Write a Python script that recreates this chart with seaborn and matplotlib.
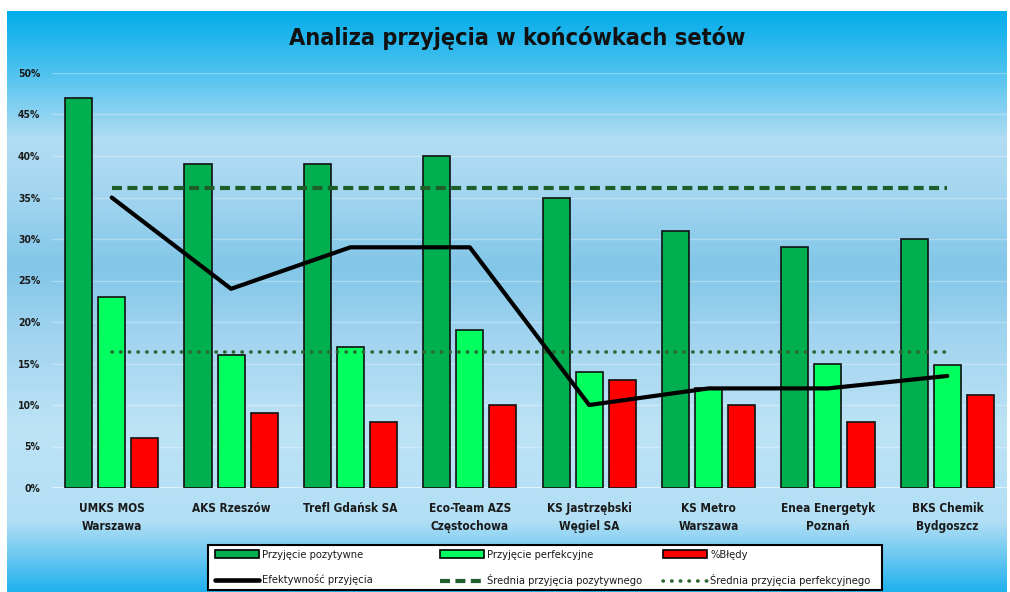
import numpy as np
import pandas as pd
import matplotlib
matplotlib.use("Agg")
import matplotlib.pyplot as plt
import seaborn as sns
from matplotlib.colors import LinearSegmentedColormap
from matplotlib.patches import Patch, Rectangle
from matplotlib.lines import Line2D
from matplotlib import font_manager as fm

# ---------------- data ----------------
categories = ["UMKS MOS\nWarszawa", "AKS Rzeszów", "Trefl Gdańsk SA",
              "Eco-Team AZS\nCzęstochowa", "KS Jastrzębski\nWęgiel SA",
              "KS Metro\nWarszawa", "Enea Energetyk\nPoznań", "BKS Chemik\nBydgoszcz"]
przyjecie_pozytywne = [47, 39, 39, 40, 35, 31, 29, 30]
przyjecie_perfekcyjne = [23, 16, 17, 19, 14, 12, 15, 14.8]
bledy = [6, 9, 8, 10, 13, 10, 8, 11.2]
efektywnosc = [35, 24, 29, 29, 10, 12, 12, 13.5]
srednia_pozytywnego = [36.2, 36.2, 36.2, 36.2, 36.2, 36.2, 36.2, 36.2]
srednia_perfekcyjnego = [16.4, 16.4, 16.4, 16.4, 16.4, 16.4, 16.4, 16.4]
y_ticks = [0, 5, 10, 15, 20, 25, 30, 35, 40, 45, 50]
y_tick_labels = ["0%", "5%", "10%", "15%", "20%", "25%", "30%", "35%", "40%", "45%", "50%"]
bar_series = ["Przyjęcie pozytywne", "Przyjęcie perfekcyjne", "%Błędy"]
line_series = ["Efektywność przyjęcia", "Średnia przyjęcia pozytywnego",
               "Średnia przyjęcia perfekcyjnego"]
title = "Analiza przyjęcia w końcówkach setów"

# ---------------- style ----------------
sns.set_theme(style="white")


def find_font(keys, bold):
    for f in fm.fontManager.ttflist:
        fn = f.fname.replace("-", "").replace("_", "").lower()
        for k in keys:
            if k in fn and (("bold" in fn) == bold) and "oblique" not in fn and "italic" not in fn:
                return f.fname
    return None


cond_keys = ["dejavusanscondensed", "liberationsansnarrow", "robotocondensed",
             "opensanscondensed", "notosanscondensed", "condensed", "narrow"]
path_b = find_font(cond_keys, True)
path_r = find_font(cond_keys, False)
fp_bold = fm.FontProperties(fname=path_b) if path_b else fm.FontProperties(family="DejaVu Sans", weight="bold")
fp_reg = fm.FontProperties(fname=path_r) if path_r else fm.FontProperties(family="DejaVu Sans")
plt.rcParams["font.family"] = ["DejaVu Sans"]

C_DARK = "#00b050"
C_LIGHT = "#00ff5f"
C_RED = "#ff0000"
C_AVG = "#1e5e2a"
C_DOT = "#2a6a30"
TXT = "#1a1a1a"
DOTS = (0.1, 2.3)
DASH = (2.4, 1.3)

W, H = 1010, 592
fig = plt.figure(figsize=(W / 100, H / 100), dpi=100, facecolor="white")

# background gradient panel
bg = fig.add_axes([7 / W, 0, 1000 / W, 581 / H])
stops = [(0.0, "#06adeb"), (0.08, "#3cbdee"), (0.22, "#b2ddf3"),
         (0.30, "#a6d7f1"), (0.44, "#82c6e8"), (0.55, "#9fd3ef"),
         (0.72, "#bde3f5"), (0.88, "#b2dff5"), (0.94, "#6cc8f1"), (1.0, "#22b2ed")]
cmap = LinearSegmentedColormap.from_list("bg", stops)
grad = np.linspace(0, 1, 400).reshape(-1, 1)
bg.imshow(grad, aspect="auto", cmap=cmap, extent=[0, 1, 0, 1], origin="upper")
bg.set_axis_off()

# main axes
ax = fig.add_axes([52 / W, (H - 488) / H, (1007 - 52) / W, 415 / H])
ax.set_facecolor("none")
ax.patch.set_alpha(0)

df = pd.DataFrame({
    "Klub": categories * 3,
    "Seria": [bar_series[0]] * 8 + [bar_series[1]] * 8 + [bar_series[2]] * 8,
    "Wartość": przyjecie_pozytywne + przyjecie_perfekcyjne + bledy,
})
sns.barplot(data=df, x="Klub", y="Wartość", hue="Seria", hue_order=bar_series,
            palette=[C_DARK, C_LIGHT, C_RED], saturation=1, width=0.83, gap=0.18,
            edgecolor="#111111", linewidth=1.2, legend=False, ax=ax, zorder=3)

xpos = np.arange(len(categories))
sns.lineplot(x=xpos, y=srednia_pozytywnego, ax=ax, color=C_AVG, lw=3.0,
             zorder=5).lines[-1].set_dashes(DASH)
l2 = sns.lineplot(x=xpos, y=srednia_perfekcyjnego, ax=ax, color=C_DOT, lw=2.6,
                  zorder=5).lines[-1]
l2.set_dashes(DOTS)
l2.set_dash_capstyle("round")
sns.lineplot(x=xpos, y=efektywnosc, ax=ax, color="black", lw=3.0, zorder=6)

ax.set_xlim(-0.5, 7.5)
ax.set_ylim(0, 50)
ax.set_yticks(y_ticks)
ax.set_yticklabels(y_tick_labels, color=TXT)
for t in ax.get_yticklabels():
    t.set_fontproperties(fp_bold)
    t.set_fontsize(7.5)
ax.set_xticks(xpos)
ax.set_xticklabels(categories, color=TXT, linespacing=1.55)
for t in ax.get_xticklabels():
    t.set_fontproperties(fp_bold)
    t.set_fontsize(8.5)
ax.tick_params(axis="y", length=0, pad=8.5)
ax.tick_params(axis="x", length=0, pad=10)
ax.set_xlabel("")
ax.set_ylabel("")
for s in ax.spines.values():
    s.set_visible(False)
ax.yaxis.grid(True, color="white", alpha=0.3, lw=1.0, zorder=0)
ax.set_axisbelow(True)
ax.axhline(0, color="white", alpha=0.6, lw=1.5, zorder=1)

# title
tfp = fp_bold.copy()
tfp.set_size(16.8)
fig.text(517 / W, 1 - 38 / H, title, ha="center", va="center",
         fontproperties=tfp, color="#111111")

# legend frame
fig.add_artist(Rectangle((208 / W, (H - 590) / H), (882 - 208) / W, 45 / H,
                         transform=fig.transFigure, facecolor="white",
                         edgecolor="black", lw=1.5, zorder=10))
col_handles = [
    [Patch(facecolor=C_DARK, edgecolor="black", lw=1.2), Line2D([], [], color="black", lw=3.3)],
    [Patch(facecolor=C_LIGHT, edgecolor="black", lw=1.2),
     Line2D([], [], color=C_AVG, lw=3.0, dashes=DASH)],
    [Patch(facecolor=C_RED, edgecolor="black", lw=1.2),
     Line2D([], [], color=C_DOT, lw=2.6, dashes=DOTS, dash_capstyle="round")],
]
col_labels = [[bar_series[0], line_series[0]], [bar_series[1], line_series[1]],
              [bar_series[2], line_series[2]]]
col_x = [215, 440, 663]
lfp = fp_reg.copy()
lfp.set_size(8)
for hs, ls, x in zip(col_handles, col_labels, col_x):
    leg = fig.legend(hs, ls, loc="upper left", bbox_to_anchor=(x / W, 1 - 550 / H),
                     frameon=False, prop=lfp, handlelength=4.0, handleheight=0.65,
                     handletextpad=0.25, borderpad=0, borderaxespad=0, labelspacing=1.3)
    leg.set_zorder(11)
    for t in leg.get_texts():
        t.set_color(TXT)

fig.savefig("out.png", dpi=100, facecolor="white")
